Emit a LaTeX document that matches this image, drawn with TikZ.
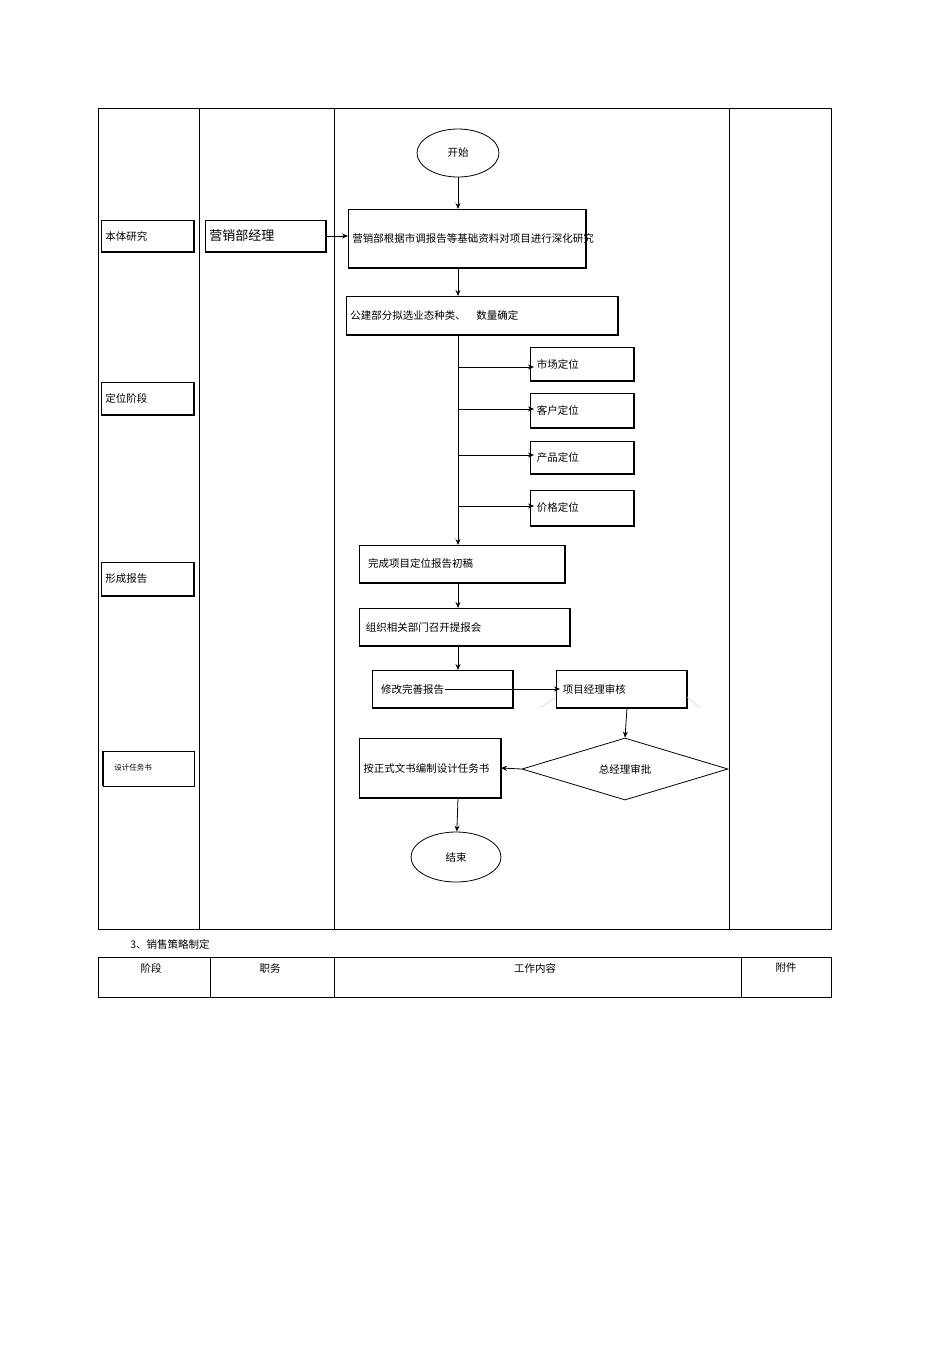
\documentclass[tikz,border=0pt]{standalone}
\usepackage{fontspec}
\setmainfont{Noto Sans CJK SC}
\usetikzlibrary{shapes.geometric,arrows.meta}
\begin{document}
\begin{tikzpicture}[x=1pt,y=-1pt,line width=0.8pt,
  bx/.style={draw,fill=white,font=\fontsize{10.5}{13}\selectfont,align=left,inner sep=0pt},
  sh/.style={line width=1.6pt},
  ar/.style={-{Stealth[length=6pt,width=5pt]}},
  tx/.style={font=\fontsize{10.5}{13}\selectfont,inner sep=0pt}]
\useasboundingbox (0,0) rectangle (950,1345);
% table
\draw (98,108) rectangle (831,929);
\foreach \x in {199,334,729} \draw (\x,108) -- (\x,929);
% left boxes
\newcommand{\lbox}[6]{\draw (#2,#3) rectangle (#4,#5); \draw[sh] (#4,#3) -- (#4,#5) -- (#2,#5);
  \node[tx,anchor=west] (#1) at (#2+4,{(#3+#5)/2}) {#6};}
\lbox{a1}{101}{220}{194}{252}{本体研究}
\lbox{a2}{101}{382}{194}{415}{定位阶段}
\lbox{a3}{101}{562}{194}{596}{形成报告}
\draw[sh] (103,751) -- (103,786); \draw (103,751) rectangle (194,786);
\node[tx,anchor=west,font=\fontsize{7.5}{9}\selectfont] (a4) at (114,768) {设计任务书};
\lbox{m}{205}{220}{326}{252}{\fontsize{13}{15}\selectfont 营销部经理}
\lbox{b1}{348}{209}{586}{268}{营销部根据市调报告等基础\\资料对项目进行深化研究}
\lbox{b2}{346}{296}{618}{335}{公建部分拟选业态种类、\quad 数量确定}
\lbox{p1}{530}{347}{634}{381}{\ 市场定位}
\lbox{p2}{530}{393}{634}{428}{\ 客户定位}
\lbox{p3}{530}{441}{634}{474}{\ 产品定位}
\lbox{p4}{530}{490}{634}{526}{\ 价格定位}
\lbox{c1}{359}{545}{565}{583}{\ \ 完成项目定位报告初稿}
\lbox{c2}{359}{608}{570}{646}{\ 组织相关部门召开提报会}
\lbox{c3}{372}{670}{513}{708}{\ \ 修改完善报告}
\lbox{c4}{556}{670}{687}{708}{\ 项目经理审核}
\lbox{c5}{359}{738}{501}{798}{按正式文书编制\\设计任务书}
\draw[gray!40,line width=0.5pt] (540,708) -- (556,697) (687,697) -- (700,708);
\node[draw,ellipse,minimum width=82pt,minimum height=48pt,tx] (s) at (458,153) {开始};
\node[draw,ellipse,minimum width=90pt,minimum height=50pt,tx] (e) at (456,857) {结束};
\node[draw,diamond,aspect=3.3,minimum width=206pt,minimum height=62pt,inner sep=0pt,tx] (d) at (625,769) {总经理审批};
% connectors
\coordinate (mr) at (326,236); \coordinate (bl) at (348,236);
\draw[ar] (mr) -- (bl);
\draw[ar] (s) -- (458,209);
\draw[ar] (458,268) -- (458,296);
\draw[ar] (458,335) -- (458,545);
\foreach \y/\n in {367/p1,409/p2,455/p3,506/p4} \draw[ar] (458,\y) -- (\n.west |- 0,\y);
\draw[ar] (458,583) -- (458,608);
\draw[ar] (458,646) -- (458,670);
\draw[ar] (c3) -- (c4);
\draw[ar] (627,708) -- (d.north);
\draw[ar] (d.west) -- (501,768);
\draw[ar] (458,798) -- (e);
% second table
\node[tx,anchor=west] (t) at (130,944) {3、销售策略制定};
\draw (98,957) rectangle (831,997);
\foreach \x in {210,334,741} \draw (\x,957) -- (\x,997);
\node[tx] (h1) at (151,968) {阶段};
\node[tx] (h2) at (270,968) {职务};
\node[tx] (h3) at (535,968) {工作内容};
\node[tx] (h4) at (786,968) {附件};
\end{tikzpicture}
\end{document}
